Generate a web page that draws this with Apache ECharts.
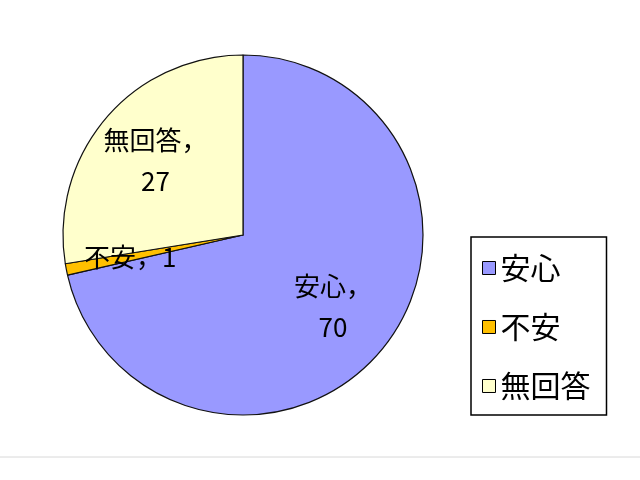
<!DOCTYPE html>
<html><head><meta charset="utf-8">
<script src="https://cdn.jsdelivr.net/npm/echarts@6/dist/echarts.min.js"></script>
<style>html,body{margin:0;padding:0;background:#fff;}#c{width:640px;height:480px;}</style>
</head><body><div id="c"></div>
<script>
const categories = ['安心', '不安', '無回答'];
const values = [70, 1, 27];
const colors = ['#9999FF', '#FFC000', '#FFFFCC'];
const labelFormats = ['{b}，\n{c}', '{b}，{c}', '{b}，\n{c}'];

const font = '"Noto Sans CJK JP", sans-serif';
const pieData = categories.map((n, i) => ({
  name: n, value: values[i],
  itemStyle: { color: colors[i] }
}));
const labelData = categories.map((n, i) => ({
  name: n, value: values[i],
  label: { formatter: labelFormats[i] }
}));

const chart = echarts.init(document.getElementById('c'), null, { renderer: 'canvas' });
chart.setOption({
  backgroundColor: '#fff',
  animation: false,
  legend: {
    orient: 'vertical',
    left: 471, top: 237,
    data: categories,
    icon: 'rect',
    itemWidth: 13, itemHeight: 13,
    itemGap: 29,
    padding: [16, 16, 14, 11],
    borderColor: '#000', borderWidth: 1.5,
    textStyle: { fontFamily: font, fontSize: 30, color: '#000' },
    itemStyle: { borderColor: '#000', borderWidth: 1 }
  },
  graphic: [{
    type: 'line', shape: { x1: 0, y1: 457, x2: 640, y2: 457 },
    style: { stroke: '#d8d8d8', lineWidth: 1 }
  }],
  series: [{
    type: 'pie',
    center: [243, 235],
    radius: [0, 180],
    startAngle: 90,
    clockwise: true,
    data: pieData,
    label: { show: false },
    labelLine: { show: false },
    itemStyle: { borderColor: '#111', borderWidth: 1.2 },
    emphasis: { disabled: true }
  }, {
    type: 'pie',
    center: [243, 235],
    radius: [44, 180],
    startAngle: 90,
    clockwise: true,
    silent: true,
    data: labelData,
    itemStyle: { color: 'rgba(0,0,0,0)', borderWidth: 0 },
    label: {
      show: true, position: 'inside',
      fontFamily: font, fontSize: 26, lineHeight: 41, color: '#000'
    },
    labelLine: { show: false },
    legendHoverLink: false,
    emphasis: { disabled: true }
  }]
});
</script></body></html>
